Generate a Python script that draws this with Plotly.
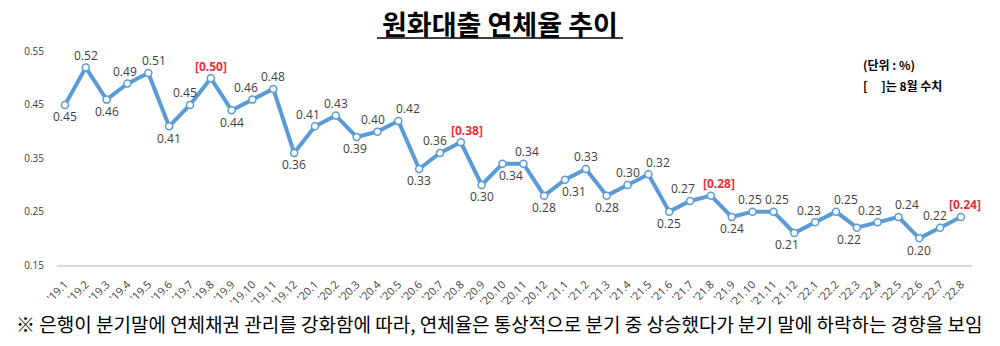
import plotly.graph_objects as go

months = ["'19.1","'19.2","'19.3","'19.4","'19.5","'19.6","'19.7","'19.8","'19.9","'19.10","'19.11","'19.12",
          "'20.1","'20.2","'20.3","'20.4","'20.5","'20.6","'20.7","'20.8","'20.9","'20.10","'20.11","'20.12",
          "'21.1","'21.2","'21.3","'21.4","'21.5","'21.6","'21.7","'21.8","'21.9","'21.10","'21.11","'21.12",
          "'22.1","'22.2","'22.3","'22.4","'22.5","'22.6","'22.7","'22.8"]
rates = [0.45,0.52,0.46,0.49,0.51,0.41,0.45,0.50,0.44,0.46,0.48,0.36,
         0.41,0.43,0.39,0.40,0.42,0.33,0.36,0.38,0.30,0.34,0.34,0.28,
         0.31,0.33,0.28,0.30,0.32,0.25,0.27,0.28,0.24,0.25,0.25,0.21,
         0.23,0.25,0.22,0.23,0.24,0.20,0.22,0.24]
yticks = [0.15, 0.25, 0.35, 0.45, 0.55]

# label styling (placement only): 'a' = above, 'b' = below, with horizontal nudge in px
label_pos = ["b","a","b","a","a","b","a","a","b","a","a","b",
             "a","a","b","a","a","b","a","a","b","b","a","b",
             "b","a","b","a","a","b","a","a","b","a","a","b",
             "a","a","b","a","a","b","a","a"]
label_dx = [0, 0, 0, -2, 6, 0, -5, 0, 0, -6, 0, 0,
            -7, 0, -2, -4, 10, 0, -5, 6, 0, 8, 4, 0,
            9, 0, 0, 0, 10, 0, -7, 8, 0, -3, 4, -7,
            -6, 10, -8, -8, 9, 0, -5, 4]

x = list(range(len(months)))
is_aug = [m.endswith(".8") for m in months]

W, H = 1000, 346
l, r, t, b = 57, 28, 50, 81
pw, ph = W - l - r, H - t - b

def px(xp):
    return (xp - l) / pw

def py(yp):
    return 1 - (yp - t) / ph

fig = go.Figure()
fig.add_trace(go.Scatter(
    x=x, y=rates, mode="lines+markers",
    line=dict(color="#5B9BD5", width=4),
    marker=dict(size=7, color="white", line=dict(color="#5B9BD5", width=1.5)),
    cliponaxis=False, hoverinfo="skip", showlegend=False))

annotations = []
for xi, v, aug, pos, dx in zip(x, rates, is_aug, label_pos, label_dx):
    if aug:
        txt = f"<b>[{v:.2f}]</b>"
        col = "#E8303A"
    else:
        txt = f"{v:.2f}"
        col = "#404040"
    annotations.append(dict(
        x=xi, y=v, xref="x", yref="y", text=txt, showarrow=False,
        font=dict(family="Open Sans", size=12, color=col),
        xanchor="center", yanchor="middle",
        xshift=dx, yshift=12 if pos == "a" else -12))

annotations += [
    dict(text="<b>원화대출 연체율 추이</b>", x=px(500), y=py(23), xref="paper", yref="paper",
         showarrow=False, font=dict(family="Noto Sans CJK KR", size=27, color="#000000"),
         xanchor="center", yanchor="middle"),
    dict(text="<b>(단위 : %)</b>", x=px(861), y=py(64), xref="paper", yref="paper",
         showarrow=False, font=dict(family="Noto Sans CJK KR", size=12, color="#000000"),
         xanchor="left", yanchor="middle"),
    dict(text="<b>[     ]는 8월 수치</b>", x=px(861), y=py(86), xref="paper", yref="paper",
         showarrow=False, font=dict(family="Noto Sans CJK KR", size=12, color="#000000"),
         xanchor="left", yanchor="middle"),
    dict(text="※ 은행이 분기말에 연체채권 관리를 강화함에 따라, 연체율은 통상적으로 분기 중 상승했다가 분기 말에 하락하는 경향을 보임",
         x=px(499), y=py(323), xref="paper", yref="paper",
         showarrow=False, font=dict(family="Noto Sans CJK KR", size=19, color="#000000"),
         xanchor="center", yanchor="middle"),
]

fig.update_layout(
    width=W, height=H,
    margin=dict(l=l, r=r, t=t, b=b),
    paper_bgcolor="white", plot_bgcolor="white",
    font=dict(family="Noto Sans CJK KR", color="#404040"),
    xaxis=dict(range=[-0.38, 43.53], tickmode="array", tickvals=x, ticktext=months,
               tickangle=-45, tickfont=dict(family="Open Sans", size=11, color="#404040"),
               showgrid=False, zeroline=False, showline=True, linecolor="#D9D9D9", linewidth=1.5,
               ticks="", ticklabelstandoff=7),
    yaxis=dict(range=[0.15, 0.553], tickmode="array", tickvals=yticks,
               ticktext=[f"{v:.2f}" for v in yticks],
               tickfont=dict(family="Open Sans", size=10, color="#404040"),
               showgrid=False, zeroline=False, showline=False, ticks="", ticklabelstandoff=12),
    annotations=annotations,
)
fig.add_shape(type="line", xref="paper", yref="paper",
              x0=px(377), x1=px(623), y0=py(38), y1=py(38),
              line=dict(color="black", width=1.5))

fig.write_html("out.html")
